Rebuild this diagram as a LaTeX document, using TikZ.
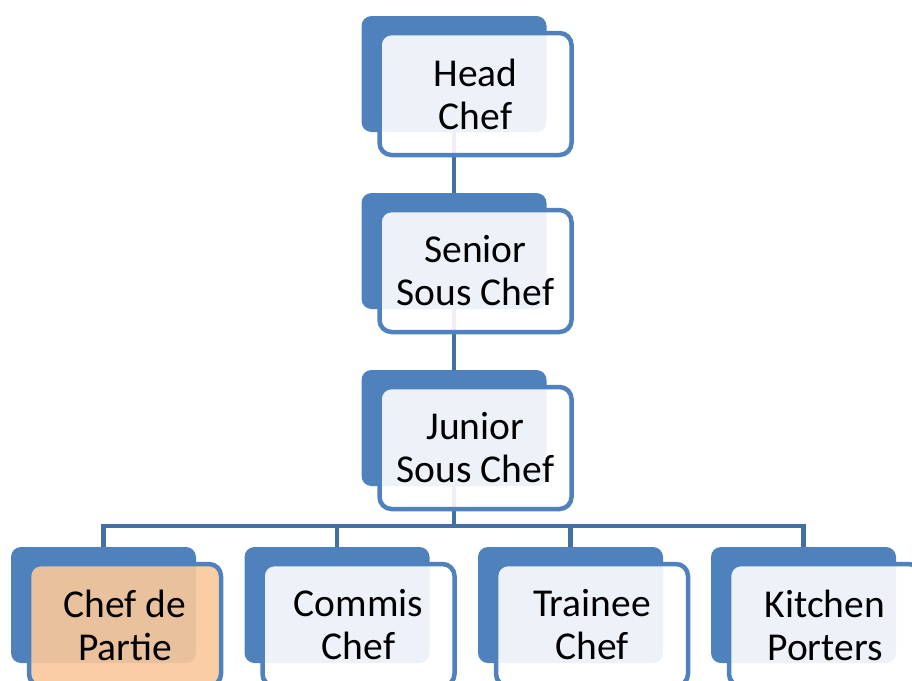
\documentclass[tikz,border=0pt]{standalone}
\usepackage{fontspec}
\setmainfont{Carlito}
\usepackage{tikz}
\usetikzlibrary{positioning}
\definecolor{boxblue}{HTML}{4F81BD}
\definecolor{linkblue}{HTML}{446FA5}
\definecolor{partie}{HTML}{FAC89A}

\tikzset{
    backbox/.style={fill=boxblue, rounded corners=10pt, inner sep=0pt,
        minimum width=185pt, minimum height=116pt},
    frontbox/.style={draw=boxblue, line width=4.5pt, fill=#1, fill opacity=0.9,
        text opacity=1, rounded corners=12pt, inner sep=0pt, align=center,
        minimum width=192pt, minimum height=122pt,
        font=\fontsize{39.5}{43}\selectfont},
    frontbox/.default=white,
    link/.style={draw=linkblue, line width=4.5pt}
}

\begin{document}
\begin{tikzpicture}[x=1pt, y=-1pt]
        \useasboundingbox (0,0) rectangle (912,680);
        \clip (0,0) rectangle (912,680);

        % back tabs
        \node[backbox] (b-head) at (454,74) {};
        \node[backbox] (b-senior) at (454,251) {};
        \node[backbox] (b-junior) at (454,428) {};
        \foreach \x/\nm in {103.5/cdp, 337/commis, 570.5/trainee, 803.5/porters}
            \node[backbox] (b-\nm) at (\x,605) {};

        % connectors
        \coordinate (bar) at (454,526);
        \draw[link] (b-head.south) -- (b-senior.north);
        \draw[link] (b-senior.south) -- (b-junior.north);
        \draw[link] (b-junior.south) -- (bar);
        \foreach \nm in {cdp, commis, trainee, porters}
            \draw[link] (bar) -| (b-\nm.north);

        % front boxes
        \node[frontbox] (head) at ([shift={(21.5,20)}]b-head) {Head\\Chef};
        \node[frontbox] (senior) at ([shift={(21.5,20)}]b-senior) {Senior\\Sous Chef};
        \node[frontbox] (junior) at ([shift={(21.5,20)}]b-junior) {Junior\\Sous Chef};
        \foreach \nm/\col/\txt in {cdp/partie/{Chef de\\Partie}, commis/white/{Commis\\Chef},
                trainee/white/{Trainee\\Chef}, porters/white/{Kitchen\\Porters}}
            \node[frontbox=\col] (\nm) at ([shift={(21.5,20)}]b-\nm) {\txt};

    \end{tikzpicture}
\end{document}
